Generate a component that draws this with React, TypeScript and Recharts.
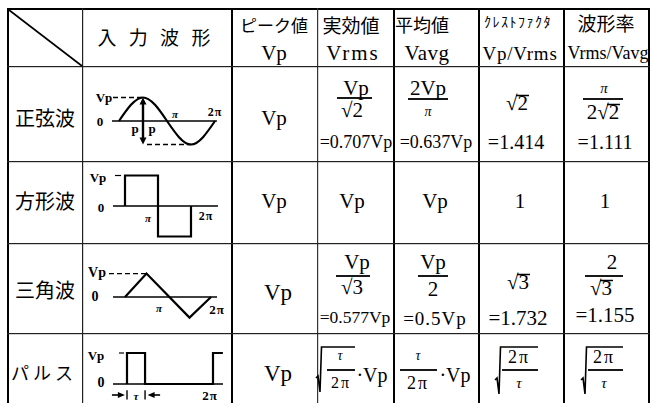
import React from 'react';
import { LineChart, Line, XAxis, YAxis, ReferenceLine, ReferenceDot } from 'recharts';

// ---- data ----
const rowLabels = ['正弦波', '方形波', '三角波', 'パルス'];
const headerTop = ['入 力 波 形', 'ピーク値', '実効値', '平均値', 'ｸﾚｽﾄﾌｧｸﾀ', '波形率'];
const headerBottom = ['Vp', 'Vrms', 'Vavg', 'Vp/Vrms', 'Vrms/Vavg'];

// waveforms: x in units of π, y in units of Vp
const sineX = [0, 0.5, 1, 1.5, 2];
const sineY = [0, 1, 0, -1, 0];
const squareX = [0, 0, 1, 1, 2, 2];
const squareY = [0, 1, 1, -1, -1, 0];
const triangleX = [0, 0.5, 1.5, 2];
const triangleY = [0, 1, -0.88, 0];
const pulseX = [0, 0, 0.42, 0.42, 2, 2, 2.23];
const pulseY = [0, 1, 1, 0, 0, 1, 1];

const zip = (xs: number[], ys: number[]) => xs.map((x, i) => ({ x, y: ys[i] }));

const SERIF = '"Liberation Serif", "DejaVu Serif", serif';
const CJK = '"Noto Sans CJK JP", "Noto Sans", sans-serif';

type TP = { x: number; y: number; s?: number; f?: string; w?: number; ls?: number; it?: boolean; children: React.ReactNode };
const T = ({ x, y, s = 20, f = SERIF, w = 400, ls = 0, it = false, children }: TP) => (
  <div
    style={{
      position: 'absolute', left: x, top: y, transform: 'translate(-50%,-50%)', fontSize: s, fontFamily: f,
      fontWeight: w, letterSpacing: ls, fontStyle: it ? 'italic' : 'normal', whiteSpace: 'nowrap', lineHeight: 1, color: '#000',
    }}
  >
    {children}
  </div>
);

const arrowShape = (dir: 'up' | 'down' | 'left' | 'right') => (p: any) => {
  const { cx, cy } = p;
  let d = '';
  if (dir === 'up') d = `M${cx},${cy} L${cx - 3.5},${cy + 7} L${cx + 3.5},${cy + 7} Z`;
  if (dir === 'down') d = `M${cx},${cy} L${cx - 3.5},${cy - 7} L${cx + 3.5},${cy - 7} Z`;
  if (dir === 'right') d = `M${cx},${cy} L${cx - 7},${cy - 3} L${cx - 7},${cy + 3} Z`;
  if (dir === 'left') d = `M${cx},${cy} L${cx + 7},${cy - 3} L${cx + 7},${cy + 3} Z`;
  return <path d={d} fill="#000" />;
};

type WP = {
  left: number; top: number; width: number; height: number; xd: [number, number]; yd: [number, number];
  data: { x: number; y: number }[]; curve: 'linear' | 'natural'; children?: React.ReactNode;
};
const Wave = ({ left, top, width, height, xd, yd, data, curve, children }: WP) => (
  <div style={{ position: 'absolute', left, top }}>
    <LineChart width={width} height={height} data={data} margin={{ top: 0, right: 0, bottom: 0, left: 0 }}>
      <XAxis type="number" dataKey="x" domain={xd} allowDataOverflow hide />
      <YAxis type="number" domain={yd} allowDataOverflow hide />
      {children}
      <Line dataKey="y" type={curve} stroke="#000" strokeWidth={2.2} dot={false} isAnimationActive={false} />
    </LineChart>
  </div>
);

const seg = (x1: number, y1: number, x2: number, y2: number, w = 1.5, dash?: string) => (
  <ReferenceLine
    segment={[{ x: x1, y: y1 }, { x: x2, y: y2 }]}
    stroke="#000"
    strokeWidth={w}
    strokeDasharray={dash}
  />
);

const Radical = ({ x, x2, yt, yb }: { x: number; x2: number; yt: number; yb: number }) => (
  <polyline
    points={`${x - 4},${yb - 14} ${x - 2},${yb - 16} ${x},${yb} ${x + 1.5},${yt} ${x2},${yt}`}
    fill="none"
    stroke="#000"
    strokeWidth={1.6}
  />
);

const Bar = ({ x1, x2, y, h = 1.8 }: { x1: number; x2: number; y: number; h?: number }) => (
  <rect x={x1} y={y - h / 2} width={x2 - x1} height={h} fill="#000" />
);

export default function App() {
  const lab = { f: SERIF, w: 700 };
  return (
    <div style={{ position: 'absolute', left: 0, top: 0, width: 652, height: 403, overflow: 'hidden', background: '#fff' }}>
      {/* waveforms */}
      <Wave left={87} top={86} width={144} height={70} xd={[-0.6667, 2.3333]} yd={[-1.4894, 1.4894]} data={zip(sineX, sineY)} curve="natural">
        {seg(-0.146, 0, 2.04, 0, 1.6)}
        {seg(-0.125, 1, 0.5, 1, 1.6, '5 3')}
        {seg(0.583, -1, 1.5, -1, 1.6, '5 3')}
        {seg(0.5, 0.75, 0.5, -0.75, 2.4)}
        <ReferenceDot x={0.5} y={1} r={3} shape={arrowShape('up')} />
        <ReferenceDot x={0.5} y={-1} r={3} shape={arrowShape('down')} />
      </Wave>
      <Wave left={87} top={163} width={144} height={78} xd={[-1.1515, 3.2121]} yd={[-1.1475, 1.4098]} data={zip(squareX, squareY)} curve="linear">
        {seg(-0.364, 0, 2.818, 0, 1.6)}
        {seg(-0.303, 1, -0.12, 1, 1.2)}
      </Wave>
      <Wave left={87} top={250} width={144} height={78} xd={[-0.8837, 2.4651]} yd={[-1.3248, 2.0085]} data={zip(triangleX, triangleY)} curve="linear">
        {seg(-0.279, 0, 2.14, 0, 1.6)}
        {seg(-0.372, 1, 0.5, 1, 1.4, '5 3')}
      </Wave>
      <Wave left={87} top={338} width={144} height={65} xd={[-0.9302, 2.4186]} yd={[-0.6129, 1.4839]} data={zip(pulseX, pulseY)} curve="linear">
        {seg(-0.326, 0, 2.233, 0, 1.6)}
        {seg(-0.186, 1, -0.07, 1, 1.2)}
        {seg(-0.35, -0.355, -0.1, -0.355, 1.6)}
        <ReferenceDot x={-0.05} y={-0.355} r={3} shape={arrowShape('right')} />
        {seg(0, -0.2, 0, -0.5, 1.4)}
        {seg(0.42, -0.2, 0.42, -0.5, 1.4)}
        {seg(0.53, -0.355, 0.77, -0.355, 1.6)}
        <ReferenceDot x={0.48} y={-0.355} r={3} shape={arrowShape('left')} />
      </Wave>

      {/* grid, bars and radicals */}
      <svg width={652} height={403} style={{ position: 'absolute', left: 0, top: 0, pointerEvents: 'none' }}>
        <rect x={7} y={8} width={643} height={2} fill="#000" />
        <rect x={7} y={8} width={2} height={400} fill="#000" />
        <rect x={648} y={8} width={2} height={400} fill="#000" />
        <rect x={231} y={8} width={2} height={400} fill="#000" />
        <rect x={393} y={8} width={2} height={400} fill="#000" />
        <rect x={478} y={8} width={2} height={400} fill="#000" />
        <rect x={563} y={8} width={2} height={400} fill="#000" />
        <rect x={82} y={8} width={1.2} height={400} fill="#222" />
        <rect x={317} y={8} width={1.2} height={400} fill="#333" />
        <rect x={7} y={66} width={643} height={1.2} fill="#222" />
        <rect x={7} y={161} width={643} height={1.2} fill="#222" />
        <rect x={7} y={243} width={643} height={1.2} fill="#222" />
        <rect x={7} y={333} width={643} height={1.2} fill="#222" />
        <line x1={9} y1={10} x2={82} y2={66} stroke="#000" strokeWidth={1.6} />

        {/* fraction bars */}
        <Bar x1={337} x2={372} y={98} />
        <Bar x1={408} x2={448} y={99} />
        <Bar x1={583} x2={623} y={99} />
        <Bar x1={336} x2={370} y={276} />
        <Bar x1={418} x2={448} y={276} />
        <Bar x1={585} x2={623} y={276} />
        {/* square-root vincula */}
        <Bar x1={516} x2={529} y={95.5} h={1.5} />
        <Bar x1={607} x2={620} y={104.5} h={1.5} />
        <Bar x1={517} x2={530} y={274.5} h={1.5} />
        <Bar x1={600} x2={613} y={280.5} h={1.5} />

        <Radical x={320} x2={355} yt={347} yb={392} />
        <Bar x1={327} x2={355} y={370} />
        <Bar x1={400} x2={437} y={370} />
        <Radical x={499} x2={538} yt={347} yb={394} />
        <Bar x1={502} x2={538} y={370} />
        <Radical x={585} x2={623} yt={347} yb={394} />
        <Bar x1={588} x2={623} y={370} />
      </svg>

      {/* header */}
      <T x={156} y={36} s={19} f={CJK} ls={4}>{headerTop[0]}</T>
      <T x={274} y={24} s={17} f={CJK}>{headerTop[1]}</T>
      <T x={351} y={24} s={19} f={CJK}>{headerTop[2]}</T>
      <T x={422} y={24} s={18} f={CJK}>{headerTop[3]}</T>
      <T x={518} y={21} s={14} f={CJK} ls={1.5}>{headerTop[4]}</T>
      <T x={606} y={22} s={19} f={CJK}>{headerTop[5]}</T>
      <T x={274} y={53} s={21}>{headerBottom[0]}</T>
      <T x={353} y={53} s={21} ls={2}>{headerBottom[1]}</T>
      <T x={427} y={53} s={21} ls={0.5}>{headerBottom[2]}</T>
      <T x={520} y={53} s={19} ls={0.8}>{headerBottom[3]}</T>
      <T x={608} y={53} s={18}>{headerBottom[4]}</T>

      {/* row labels */}
      <T x={45} y={118} s={20} f={CJK}>{rowLabels[0]}</T>
      <T x={45} y={201} s={20} f={CJK}>{rowLabels[1]}</T>
      <T x={45} y={290} s={20} f={CJK}>{rowLabels[2]}</T>
      <T x={44} y={372} s={18} f={CJK} ls={4}>{rowLabels[3]}</T>

      {/* row 1: sine */}
      <T x={274} y={118} s={21}>Vp</T>
      <T x={356} y={88} s={21}>Vp</T>
      <T x={352} y={110} s={21}>√2</T>
      <T x={356} y={142} s={18}>=0.707Vp</T>
      <T x={428} y={88} s={21}>2Vp</T>
      <T x={428} y={112} s={14} it>π</T>
      <T x={436} y={142} s={18}>=0.637Vp</T>
      <T x={517} y={103} s={21}>√2</T>
      <T x={516} y={142} s={20}>=1.414</T>
      <T x={604} y={88} s={15} it>π</T>
      <T x={603} y={112} s={21}>2√2</T>
      <T x={605} y={142} s={20}>=1.111</T>

      {/* row 2: square */}
      <T x={274} y={201} s={21}>Vp</T>
      <T x={352} y={201} s={21}>Vp</T>
      <T x={435} y={201} s={21}>Vp</T>
      <T x={520} y={201} s={21}>1</T>
      <T x={605} y={201} s={21}>1</T>

      {/* row 3: triangle */}
      <T x={278} y={292} s={23}>Vp</T>
      <T x={357} y={262} s={21}>Vp</T>
      <T x={352} y={287} s={21}>√3</T>
      <T x={355} y={318} s={17.5}>=0.577Vp</T>
      <T x={433} y={262} s={21}>Vp</T>
      <T x={433} y={289} s={21}>2</T>
      <T x={435} y={318} s={19} ls={1}>=0.5Vp</T>
      <T x={518} y={282} s={21}>√3</T>
      <T x={518} y={318} s={21}>=1.732</T>
      <T x={612} y={262} s={21}>2</T>
      <T x={601} y={288} s={21}>√3</T>
      <T x={605} y={315} s={21}>=1.155</T>

      {/* row 4: pulse */}
      <T x={278} y={373} s={23}>Vp</T>
      <T x={340} y={356} s={14} it>τ</T>
      <T x={341} y={383} s={16} ls={2}>2π</T>
      <T x={372} y={375} s={20}>·Vp</T>
      <T x={418} y={356} s={14} it>τ</T>
      <T x={418} y={383} s={18} ls={2}>2π</T>
      <T x={455} y={375} s={20}>·Vp</T>
      <T x={519} y={357} s={18} ls={2}>2π</T>
      <T x={519} y={383} s={15} it>τ</T>
      <T x={604} y={357} s={18} ls={2}>2π</T>
      <T x={604} y={383} s={15} it>τ</T>

      {/* waveform labels */}
      <T x={104} y={97} s={13} {...lab}>Vp</T>
      <T x={100} y={121} s={13} {...lab}>0</T>
      <T x={175} y={114} s={11} it {...lab}>π</T>
      <T x={215} y={112} s={12} ls={1} {...lab}>2π</T>
      <T x={135} y={128} s={13} {...lab}>p</T>
      <T x={152} y={128} s={13} {...lab}>p</T>

      <T x={98} y={177} s={13} {...lab}>Vp</T>
      <T x={101} y={207} s={13} {...lab}>0</T>
      <T x={148} y={218} s={11} it {...lab}>π</T>
      <T x={206} y={216} s={12} ls={1} {...lab}>2π</T>

      <T x={97} y={273} s={14} {...lab}>Vp</T>
      <T x={95} y={297} s={14} {...lab}>0</T>
      <T x={159} y={308} s={11} it {...lab}>π</T>
      <T x={217} y={309} s={13} ls={1} {...lab}>2π</T>

      <T x={96} y={355} s={13} {...lab}>Vp</T>
      <T x={101} y={383} s={14} {...lab}>0</T>
      <T x={136} y={396} s={11} it {...lab}>τ</T>
      <T x={210} y={395} s={13} ls={1} {...lab}>2π</T>
    </div>
  );
}
